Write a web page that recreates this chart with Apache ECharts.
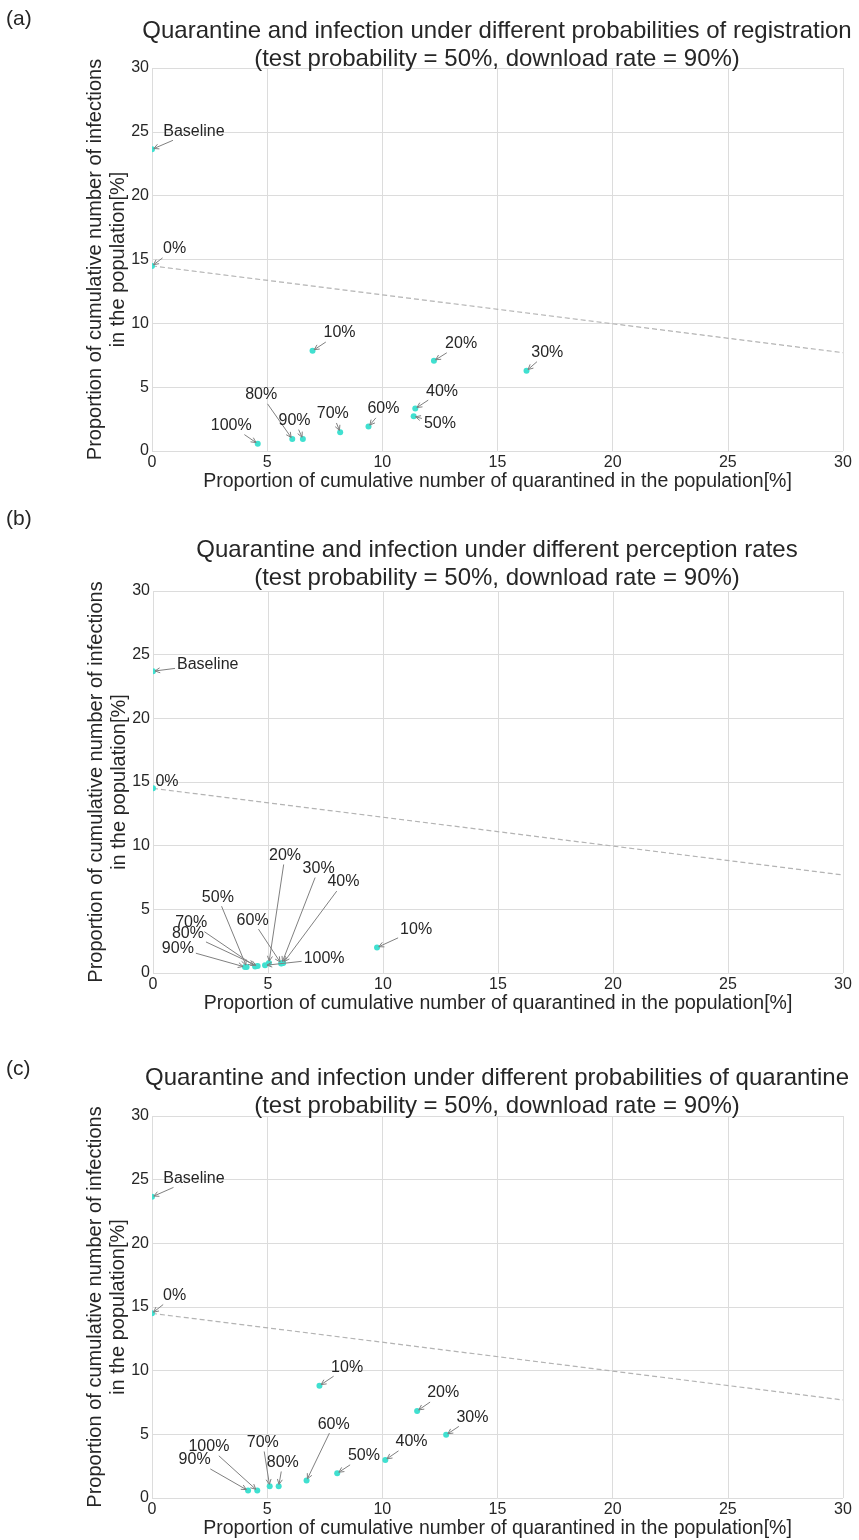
<!DOCTYPE html>
<html>
<head>
<meta charset="utf-8">
<script src="https://cdn.jsdelivr.net/npm/echarts@6/dist/echarts.min.js"></script>
<style>
  html, body { margin: 0; padding: 0; background: #fff; }
  #main { width: 859px; height: 1540px; }
</style>
</head>
<body>
<div id="main"></div>
<script>
// labels of the scenarios (0% .. 100%)
const pctNames = ['0%', '10%', '20%', '30%', '40%', '50%', '60%', '70%', '80%', '90%', '100%'];

// (a) probabilities of registration
const regX = [0, 6.97, 12.24, 16.26, 11.43, 11.36, 9.40, 8.17, 6.09, 6.55, 4.59];
const regY = [14.5, 7.85, 7.06, 6.28, 3.32, 2.72, 1.91, 1.47, 0.94, 0.94, 0.57];
const regBase = [0, 23.63];
// where the annotation text sits (data units)
const regTextX = [0.98, 8.14, 13.42, 17.16, 12.59, 12.5, 10.05, 7.85, 4.74, 6.19, 3.44];
const regTextY = [15.83, 9.24, 8.4, 7.7, 4.69, 2.17, 3.3, 2.9, 4.4, 2.38, 1.99];
const regBaseText = [1.82, 25.04];

// (b) perception rates
const perX = [0, 9.74, 5.04, 5.60, 5.66, 4.07, 5.57, 4.44, 4.55, 4.00, 4.87];
const perY = [14.5, 2.0, 0.78, 0.76, 0.78, 0.48, 0.74, 0.52, 0.54, 0.47, 0.6];
const perBase = [0, 23.7];
const perTextX = [0.61, 11.44, 5.74, 7.2, 8.28, 2.82, 4.33, 1.66, 1.52, 1.08, 7.44];
const perTextY = [15.0, 3.41, 9.23, 8.2, 7.14, 5.95, 4.15, 3.95, 3.1, 1.95, 1.11];
const perBaseText = [2.38, 24.25];

// (c) probabilities of quarantine
const quaX = [0, 7.27, 11.51, 12.77, 10.13, 8.04, 6.71, 5.11, 5.50, 4.17, 4.57];
const quaY = [14.5, 8.82, 6.83, 4.96, 2.99, 1.94, 1.37, 0.92, 0.92, 0.58, 0.58];
const quaBase = [0, 23.65];
const quaTextX = [0.98, 8.47, 12.64, 13.91, 11.27, 9.2, 7.89, 4.81, 5.68, 1.85, 2.47];
const quaTextY = [15.9, 10.27, 8.24, 6.33, 4.41, 3.31, 5.8, 4.36, 2.79, 2.99, 4.02];
const quaBaseText = [1.82, 25.1];

// dashed reference line
const refX = [0, 30];
const refY = [14.5, 7.7];

const axisTicks = [0, 5, 10, 15, 20, 25, 30];

const titles = [
  'Quarantine and infection under different probabilities of registration\n(test probability = 50%, download rate = 90%)',
  'Quarantine and infection under different perception rates\n(test probability = 50%, download rate = 90%)',
  'Quarantine and infection under different probabilities of quarantine\n(test probability = 50%, download rate = 90%)'
];
const panelTags = ['(a)', '(b)', '(c)'];

const FONT = '"Liberation Sans", Arial, sans-serif';
const TXT = '#262626';

const panels = [
  { xs: regX, ys: regY, base: regBase, tx: regTextX, ty: regTextY, baseText: regBaseText,
    grid: { left: 152, top: 68, width: 691, height: 383 }, titleTop: 17, tagTop: 9 },
  { xs: perX, ys: perY, base: perBase, tx: perTextX, ty: perTextY, baseText: perBaseText,
    grid: { left: 153, top: 591, width: 690, height: 382 }, titleTop: 536, tagTop: 509 },
  { xs: quaX, ys: quaY, base: quaBase, tx: quaTextX, ty: quaTextY, baseText: quaBaseText,
    grid: { left: 152, top: 1116, width: 691, height: 383 }, titleTop: 1064, tagTop: 1059 }
];

const measure = document.createElement('canvas').getContext('2d');
measure.font = '16px ' + FONT;

function annotationItem(names) {
  return function (params, api) {
    const p = api.coord([api.value(0), api.value(1)]);
    const t = api.coord([api.value(2), api.value(3)]);
    const text = names[params.dataIndex];
    const w = measure.measureText(text).width;
    const h = 16;
    const children = [{
      type: 'text',
      x: t[0], y: t[1],
      style: { text: text, fill: TXT, font: '16px ' + FONT, align: 'center', verticalAlign: 'middle' }
    }];
    const dx = p[0] - t[0], dy = p[1] - t[1];
    const tc = Math.min((w / 2 + 2) / Math.max(Math.abs(dx), 1e-6), (h / 2 + 1) / Math.max(Math.abs(dy), 1e-6));
    const len = Math.sqrt(dx * dx + dy * dy);
    if (tc < 1 && len * (1 - tc) > 6) {
      const sx = t[0] + dx * tc, sy = t[1] + dy * tc;
      const ux = dx / len, uy = dy / len;
      const ex = p[0] - ux * 2, ey = p[1] - uy * 2;
      const hl = 5, hw = 2.5;
      children.push({
        type: 'line',
        shape: { x1: sx, y1: sy, x2: ex, y2: ey },
        style: { stroke: '#808080', lineWidth: 1 }
      });
      children.push({
        type: 'polyline',
        shape: { points: [
          [ex - ux * hl - uy * hw, ey - uy * hl + ux * hw],
          [ex, ey],
          [ex - ux * hl + uy * hw, ey - uy * hl - ux * hw]
        ] },
        style: { stroke: '#808080', lineWidth: 1, fill: null }
      });
    }
    return { type: 'group', children: children };
  };
}

// dots drawn through custom series so they are clipped at the axes
function dotItem(params, api) {
  const p = api.coord([api.value(0), api.value(1)]);
  return {
    type: 'circle',
    shape: { cx: p[0], cy: p[1], r: 3 },
    style: { fill: '#40E0D0' }
  };
}

const grid = [], xAxis = [], yAxis = [], series = [], title = [];

panels.forEach(function (pn, i) {
  grid.push(pn.grid);
  title.push({
    text: titles[i], left: 497, top: pn.titleTop, textAlign: 'center', padding: 0,
    textStyle: { fontFamily: FONT, fontSize: 24, fontWeight: 'normal', color: TXT, lineHeight: 28 }
  });
  title.push({
    text: panelTags[i], left: 6, top: pn.tagTop, padding: 0,
    textStyle: { fontFamily: FONT, fontSize: 21, fontWeight: 'normal', color: TXT }
  });
  xAxis.push({
    type: 'value', gridIndex: i, min: axisTicks[0], max: axisTicks[axisTicks.length - 1], interval: 5,
    name: 'Proportion of cumulative number of quarantined in the population[%]',
    nameLocation: 'middle', nameGap: 21, nameMoveOverlap: false,
    nameTextStyle: { fontFamily: FONT, fontSize: 19.5, color: TXT },
    axisLine: { show: false }, axisTick: { show: false },
    axisLabel: { fontFamily: FONT, fontSize: 16, color: TXT, margin: 4 },
    splitLine: { show: true, lineStyle: { color: '#dcdcdc', width: 1 } }
  });
  yAxis.push({
    type: 'value', gridIndex: i, min: axisTicks[0], max: axisTicks[axisTicks.length - 1], interval: 5,
    name: 'Proportion of cumulative number of infections\nin the population[%]',
    nameLocation: 'middle', nameGap: 22, nameMoveOverlap: false,
    nameTextStyle: { fontFamily: FONT, fontSize: 20, color: TXT, lineHeight: 23 },
    axisLine: { show: false }, axisTick: { show: false },
    axisLabel: { fontFamily: FONT, fontSize: 16, color: TXT, margin: 3 },
    splitLine: { show: true, lineStyle: { color: '#dcdcdc', width: 1 } }
  });

  series.push({
    type: 'line', xAxisIndex: i, yAxisIndex: i, silent: true, symbol: 'none',
    data: refX.map(function (x, k) { return [x, refY[k]]; }),
    lineStyle: { color: '#b4b4b4', width: 1.2, type: [5, 3] }, z: 2
  });

  const pts = pn.xs.map(function (x, k) { return [x, pn.ys[k]]; });
  pts.push(pn.base);
  series.push({
    type: 'custom', xAxisIndex: i, yAxisIndex: i, clip: true, silent: true,
    renderItem: dotItem,
    encode: { x: 0, y: 1 },
    data: pts, z: 3
  });

  const names = pctNames.concat(['Baseline']);
  const ann = pn.xs.map(function (x, k) { return [x, pn.ys[k], pn.tx[k], pn.ty[k]]; });
  ann.push([pn.base[0], pn.base[1], pn.baseText[0], pn.baseText[1]]);
  series.push({
    type: 'custom', xAxisIndex: i, yAxisIndex: i, silent: true, clip: false,
    renderItem: annotationItem(names),
    encode: { x: 0, y: 1 },
    data: ann, z: 4
  });
});

const myChart = echarts.init(document.getElementById('main'));
myChart.setOption({
  animation: false,
  backgroundColor: '#ffffff',
  textStyle: { fontFamily: FONT },
  title: title,
  grid: grid,
  xAxis: xAxis,
  yAxis: yAxis,
  series: series
});

window.onresize = function () {
  myChart.resize();
};
</script>
</body>
</html>
